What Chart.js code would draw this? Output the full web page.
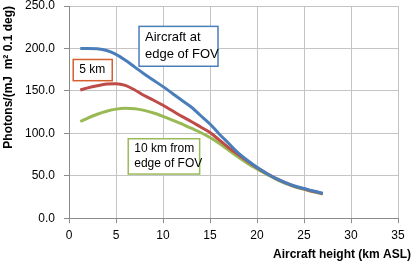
<!DOCTYPE html>
<html>
<head>
<meta charset="utf-8">
<script src="https://cdn.jsdelivr.net/npm/chart.js@4/dist/chart.umd.min.js"></script>
<style>
    html, body { margin: 0; padding: 0; background: #fff; }
    #wrap { width: 417px; height: 268px; }
</style>
</head>
<body>
<div id="wrap"><canvas id="photonChart"></canvas></div>
<script>
// Aircraft height (km ASL)
const heights = [1.2, 2, 3, 4, 5, 6, 7, 8, 9, 10, 11, 12, 13, 14, 15, 16, 17, 18, 19, 20, 21, 22, 23, 24, 25, 26, 27];

// Photons per (mJ m2 0.1 deg)
const edgeOfFov = [200, 200, 199.5, 197.5, 193, 186, 178, 170, 162.5, 155, 147, 139, 131, 121, 111, 99, 88, 77, 68, 60, 53, 47, 42, 38, 35, 32, 29.5];
const fiveKm = [151, 153.5, 156, 158, 158.5, 156.5, 151, 144.5, 139, 133, 126.5, 120, 114, 107.5, 101, 92, 83, 75, 67, 59.5, 53, 47, 42, 37.5, 34.5, 31.5, 29];
const tenKmFromEdge = [114, 118, 122.5, 126, 128.5, 129.5, 129, 127, 124, 120, 115.5, 111, 106, 101, 95, 88, 80, 72, 64.5, 58, 52, 46, 41, 37, 34, 31, 28.5];

// Label boxes, in data units (x from, x to, y top, y bottom)
const labelBoxes = [
    { lines: ['Aircraft at', 'edge of FOV'], color: '#4a7ebb', x0: 7.45, x1: 15.85, y0: 226, y1: 179, size: 13, gap: 17 },
    { lines: ['5 km'], color: '#d4602e', x0: 0.45, x1: 4.6, y0: 187, y1: 162, size: 12, gap: 15 },
    { lines: ['10 km from', 'edge of FOV'], color: '#9bbb59', x0: 6.3, x1: 13.9, y0: 93.6, y1: 52, size: 12, gap: 15 }
];

const FONT = "'Liberation Sans', Arial, sans-serif";

function toPoints(ys) {
    return heights.map((x, i) => ({ x: x, y: ys[i] }));
}

// Draws the text boxes that sit on the plot
const labelBoxPlugin = {
    id: 'labelBoxes',
    afterDatasetsDraw(chart) {
        const ctx = chart.ctx;
        const xs = chart.scales.x, ys = chart.scales.y;
        ctx.save();
        labelBoxes.forEach(b => {
            const left = xs.getPixelForValue(b.x0), right = xs.getPixelForValue(b.x1);
            const top = ys.getPixelForValue(b.y0), bottom = ys.getPixelForValue(b.y1);
            ctx.fillStyle = '#fff';
            ctx.fillRect(left, top, right - left, bottom - top);
            ctx.strokeStyle = b.color;
            ctx.lineWidth = 1.5;
            ctx.strokeRect(left, top, right - left, bottom - top);
            ctx.fillStyle = '#000';
            ctx.font = b.size + 'px ' + FONT;
            ctx.textAlign = 'left';
            ctx.textBaseline = 'middle';
            const midY = (top + bottom) / 2;
            const startY = midY - (b.lines.length - 1) * b.gap / 2;
            b.lines.forEach((t, i) => ctx.fillText(t, left + 6, startY + i * b.gap));
        });
        ctx.restore();
    }
};

function lineSet(label, ys, color) {
    return {
        label: label,
        data: toPoints(ys),
        borderColor: color,
        backgroundColor: color,
        borderWidth: 3,
        pointRadius: 0,
        cubicInterpolationMode: 'monotone',
        fill: false
    };
}

const ctx = document.getElementById('photonChart').getContext('2d');
new Chart(ctx, {
    type: 'line',
    data: {
        datasets: [
            lineSet('Aircraft at edge of FOV', edgeOfFov, '#4a7ebb'),
            lineSet('5 km', fiveKm, '#be4b48'),
            lineSet('10 km from edge of FOV', tenKmFromEdge, '#98b954')
        ]
    },
    options: {
        responsive: true,
        maintainAspectRatio: false,
        animation: false,
        layout: { padding: { left: 0, right: 6, top: 0, bottom: 6 } },
        scales: {
            x: {
                type: 'linear',
                min: 0,
                max: 35,
                afterFit: (s) => { s.paddingRight = 19; s.paddingLeft = 0; },
                ticks: { stepSize: 5, color: '#000', font: { family: FONT, size: 12 }, padding: 5, maxRotation: 0 },
                grid: { color: '#c4c4c4', tickLength: 5, tickColor: '#8c8c8c' },
                border: { color: '#8c8c8c' }
            },
            y: {
                min: 0,
                max: 250,
                afterFit: (s) => { s.width = 69; s.paddingTop = 6; s.paddingBottom = 0; },
                ticks: {
                    stepSize: 50,
                    color: '#000',
                    font: { family: FONT, size: 12 },
                    padding: 9,
                    callback: (v) => Number(v).toFixed(1)
                },
                grid: { color: '#c4c4c4', tickLength: 5, tickColor: '#8c8c8c' },
                border: { color: '#8c8c8c' },
                title: {
                    display: true,
                    text: 'Photons/(mJ  m\u00B2 0.1 deg)',
                    align: 'end',
                    color: '#000',
                    font: { family: FONT, size: 12, weight: 'bold' },
                    padding: { top: 1, bottom: 0 }
                }
            }
        },
        plugins: {
            legend: { display: false },
            tooltip: { enabled: false },
            title: {
                display: true,
                position: 'bottom',
                align: 'end',
                text: 'Aircraft height (km ASL)',
                color: '#000',
                font: { family: FONT, size: 12, weight: 'bold' },
                padding: { top: 0, bottom: 0 }
            }
        }
    },
    plugins: [labelBoxPlugin]
});
</script>
</body>
</html>
